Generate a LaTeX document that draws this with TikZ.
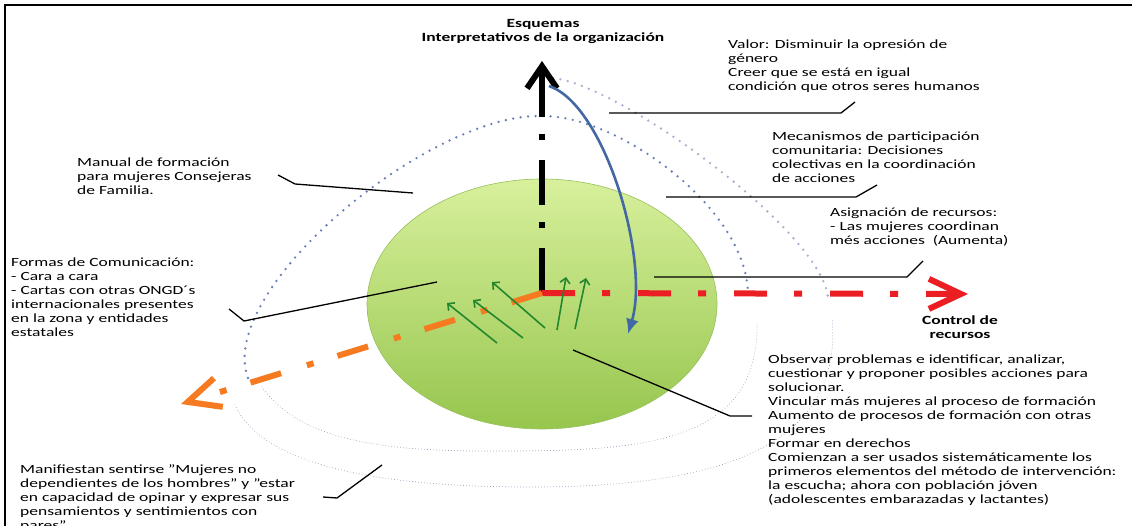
\documentclass[tikz,border=0pt]{standalone}
\usepackage{fontspec}
\setmainfont{Carlito}[FakeStretch=1.4]
\usetikzlibrary{arrows.meta}

\definecolor{axisred}{RGB}{234,30,35}
\definecolor{axisorange}{RGB}{245,122,32}
\definecolor{arrowgreen}{RGB}{35,135,45}
\definecolor{curveblue}{RGB}{68,104,164}
\definecolor{dotblue}{RGB}{105,128,182}
\definecolor{dotpale}{RGB}{165,176,204}
\definecolor{dotgray}{RGB}{140,152,182}
\definecolor{disctop}{RGB}{216,240,156}
\definecolor{discbottom}{RGB}{150,198,78}
\definecolor{discedge}{RGB}{150,192,92}

\tikzset{
  note/.style={anchor=north west, inner sep=0pt, align=left,
    font=\fontsize{12.5}{14}\selectfont, execute at begin node=\strut},
  heading/.style={inner sep=0pt, align=center,
    font=\fontsize{12.5}{14}\selectfont\bfseries},
  leader/.style={line width=1.3pt},
  bigdots/.style={line width=2.6pt, line cap=round, dash pattern=on 0pt off 7.5pt},
  finedots/.style={line width=0.9pt, line cap=round, dash pattern=on 0pt off 3pt},
  barb/.style={-{Straight Barb[length=#1, width=30pt]}},
  push/.style={arrowgreen, line width=1.6pt, -{Straight Barb[length=5pt, width=10pt]}}
}

\begin{document}
\begin{tikzpicture}[x=1pt, y=-1pt]
    \useasboundingbox (0, 0) rectangle (1132, 526);
    % frame
    \draw [line width=2pt] (5, 526) -- (5, 5) -- (1132, 5);

    % rings
    \coordinate (top) at (543, 116);
    \draw [bigdots, dotblue]  (248, 378) .. controls (215, 290) and (430, 112) .. (top)
                                          .. controls (620, 116) and (748, 210) .. (748, 295);
    \draw [bigdots, dotpale]  (553, 78) .. controls (620, 85) and (820, 230) .. (828, 297);
    \draw [finedots, dotgray] (262, 387) .. controls (300, 440) and (380, 452) .. (500, 451)
                                          .. controls (640, 451) and (760, 445) .. (757, 322);
    \draw [finedots, dotgray] (235, 405) .. controls (260, 460) and (360, 487) .. (530, 487)
                                          .. controls (690, 487) and (845, 460) .. (832, 318);

    % disc
    \coordinate (disc) at (542, 304);
    \shade [top color=disctop, bottom color=discbottom, draw=discedge, line width=0.6pt]
        (disc) ellipse [x radius=175, y radius=125];

    % leaders
    \coordinate (m1) at (278, 175);  \coordinate (m2) at (295, 184);  \coordinate (m3) at (413, 193);
    \coordinate (f1) at (229, 309);  \coordinate (f2) at (244, 321);  \coordinate (f3) at (437, 282);
    \coordinate (s1) at (323, 497);  \coordinate (s2) at (337, 498);  \coordinate (s3) at (382, 465);
    \coordinate (v1) at (609, 113);  \coordinate (v2) at (841, 113);  \coordinate (v3) at (855, 102);
    \coordinate (c1) at (666, 197);  \coordinate (c2) at (856, 197);  \coordinate (c3) at (877, 185);
    \coordinate (a1) at (654, 277);  \coordinate (a2) at (907, 277);  \coordinate (a3) at (923, 261);
    \coordinate (o1) at (573, 350);  \coordinate (o2) at (730, 416);  \coordinate (o3) at (752, 416);
    \draw [leader] (m1) -- (m2) -- (m3);
    \draw [leader] (f1) -- (f2) -- (f3);
    \draw [leader] (s1) -- (s2) -- (s3);
    \draw [leader] (v1) -- (v2) -- (v3);
    \draw [leader] (c1) -- (c2) -- (c3);
    \draw [leader] (a1) -- (a2) -- (a3);
    \draw [leader] (o1) -- (o2) -- (o3);

    % axes
    \coordinate (O) at (542, 293);
    \coordinate (Ytip) at (542, 61);
    \coordinate (Xtip) at (968, 294);
    \coordinate (Ztip) at (181, 404);
    \draw [line width=6pt, dash pattern=on 45pt off 20pt on 6pt off 17pt, barb=22pt] (O) -- (Ytip);
    \draw [axisred, line width=6pt, dash pattern=on 33pt off 27pt on 8pt off 28pt, barb=32pt] (O) -- (Xtip);
    \draw [axisorange, line width=6pt, dash pattern=on 32pt off 25pt on 7pt off 27pt, barb=32pt] (O) -- (Ztip);

    % green pushes
    \draw [push] (497, 343) -- (447, 303);
    \draw [push] (523, 338) -- (473, 300);
    \draw [push] (545, 328) -- (492, 282);
    \draw [push] (557, 330) -- (566, 277);
    \draw [push] (575, 329) -- (586, 278);

    % feedback curve
    \coordinate (b0) at (549, 86);
    \coordinate (b1) at (628, 334);
    \draw [curveblue, line width=2.6pt, -{Latex[length=15pt, width=13pt]}]
        (b0) .. controls (605, 105) and (650, 260) .. (b1);

    % labels
    \node [heading] (esq) at (543, 32) {Esquemas\\Interpretativos de la organización};
    \node [heading] (ctrl) at (960, 327) {Control de\\recursos};
    \node [note] (manual) at (77, 158) {Manual de formación\\para mujeres Consejeras\\de Familia.};
    \node [note] (formas) at (11, 258) {Formas de Comunicación:\\- Cara a cara\\- Cartas con otras ONGD´s\\internacionales presentes\\en la zona y entidades\\estatales};
    \node [note] (manif) at (20, 464) {Manifiestan sentirse "Mujeres no\\dependientes de los hombres" y "estar\\en capacidad de opinar y expresar sus\\pensamientos y sentimientos con\\pares".};
    \node [note] (valor) at (728, 40) {Valor: Disminuir la opresión de\\género\\Creer que se está en igual\\condición que otros seres humanos};
    \node [note] (meca) at (772, 132) {Mecanismos de participación\\comunitaria: Decisiones\\colectivas en la coordinación\\de acciones};
    \node [note] (asig) at (830, 208) {Asignación de recursos:\\- Las mujeres coordinan\\més acciones~ (Aumenta)};
    \node [note] (obs) at (768, 355) {Observar problemas e identificar, analizar,\\cuestionar y proponer posibles acciones para\\solucionar.\\Vincular más mujeres al proceso de formación\\Aumento de procesos de formación con otras\\mujeres\\Formar en derechos\\Comienzan a ser usados sistemáticamente los\\primeros elementos del método de intervención:\\la escucha; ahora con población jóven\\(adolescentes embarazadas y lactantes)};
\end{tikzpicture}
\end{document}
